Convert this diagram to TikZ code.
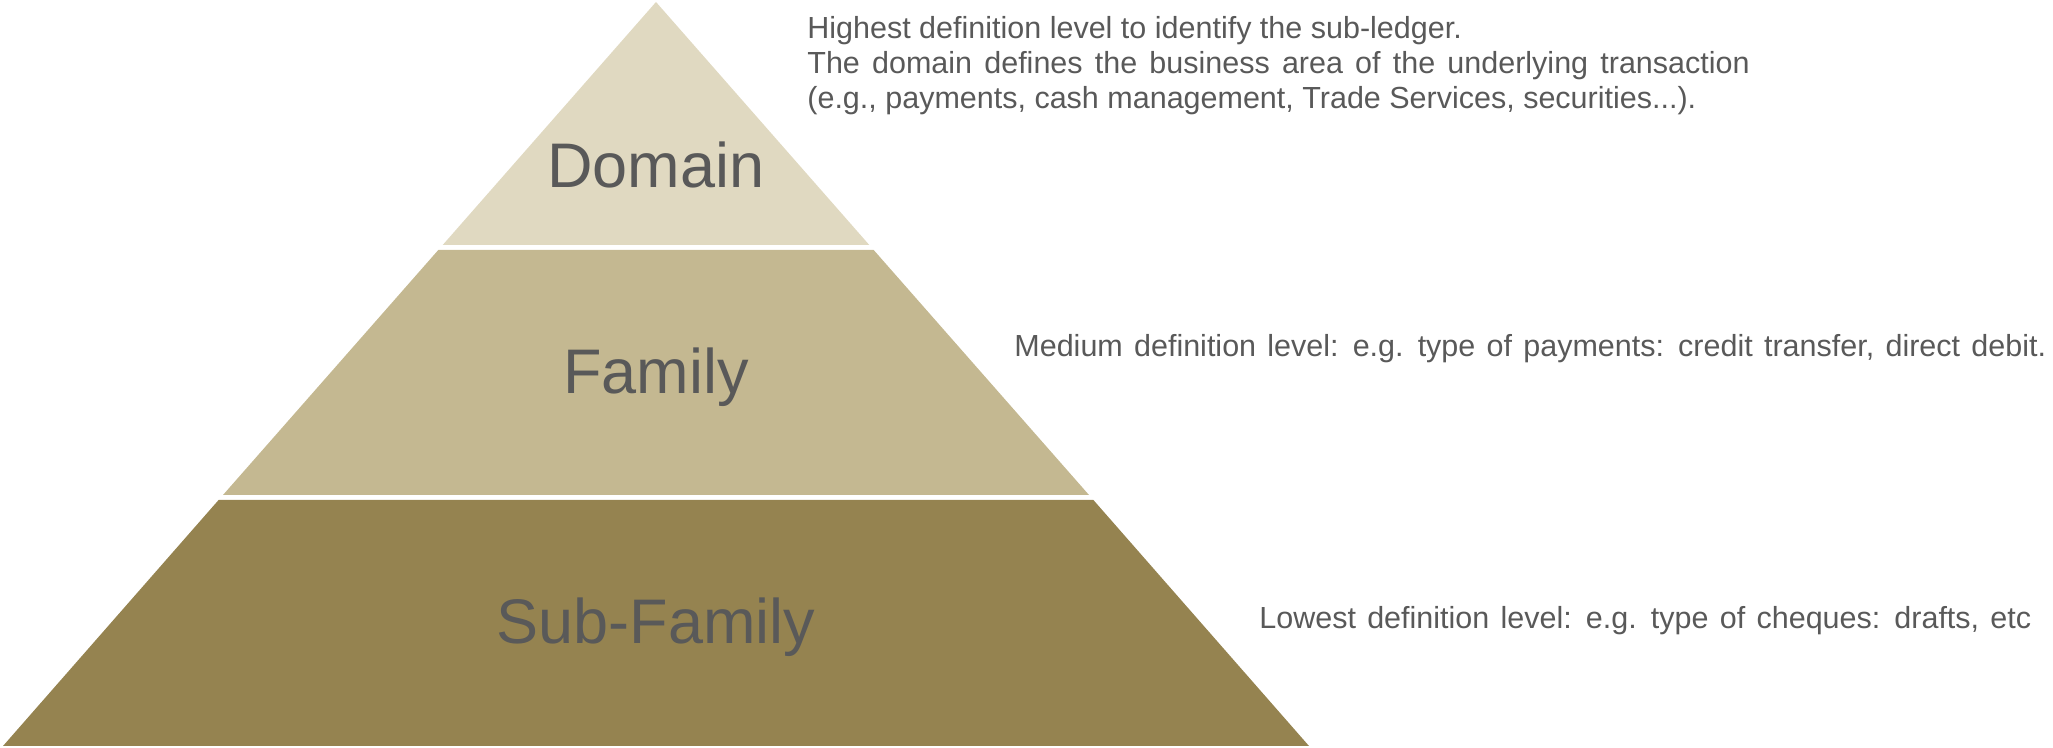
\documentclass[tikz,border=0pt]{standalone}
\usepackage{fontspec}
\setmainfont{Liberation Sans}
\usepackage{xcolor}

\definecolor{domainfill}{HTML}{E0D9C1}
\definecolor{familyfill}{HTML}{C4B891}
\definecolor{subfill}{HTML}{958350}
\definecolor{textgrey}{HTML}{595959}

\begin{document}
\begin{tikzpicture}[x=0.5pt, y=-0.5pt,
    tier/.style={text=textgrey, font=\fontsize{31.5}{36}\selectfont, anchor=base, inner sep=0pt},
    note/.style={text=textgrey, font=\fontsize{15.25}{17.5}\selectfont, anchor=base west, inner sep=0pt, align=left},
    wide/.style={execute at begin node={\spaceskip=0.37em plus 0.1em\relax}}]

    \useasboundingbox (0,0) rectangle (2053,748);

    % the three levels of the pyramid
    \fill[domainfill] (656,2) -- (442.7,245) -- (869.3,245) -- cycle;
    \fill[familyfill] (438.3,250) -- (873.7,250) -- (1089,495) -- (223,495) -- cycle;
    \fill[subfill] (218.6,500) -- (1093.4,500) -- (1309,746) -- (3,746) -- cycle;

    \node[tier] (domain) at (656,188) {Domain};
    \node[tier] (family) at (656,394) {Family};
    \node[tier] (subfamily) at (656,644) {Sub-Family};

    % descriptions on the right (base = last line)
    \node[note] (domaintxt) at (807,109) {Highest definition level to identify the sub-ledger.\\
      {\spaceskip=0.4em\relax The domain defines the business area of the underlying transaction}\\
      (e.g., payments, cash management, Trade Services, securities...).};
    \node[note, wide] (familytxt) at (1014,357) {Medium definition level: e.g. type of payments: credit transfer, direct debit.};
    \node[note, wide] (subfamilytxt) at (1259,629) {Lowest definition level: e.g. type of cheques: drafts, etc};

\end{tikzpicture}
\end{document}
